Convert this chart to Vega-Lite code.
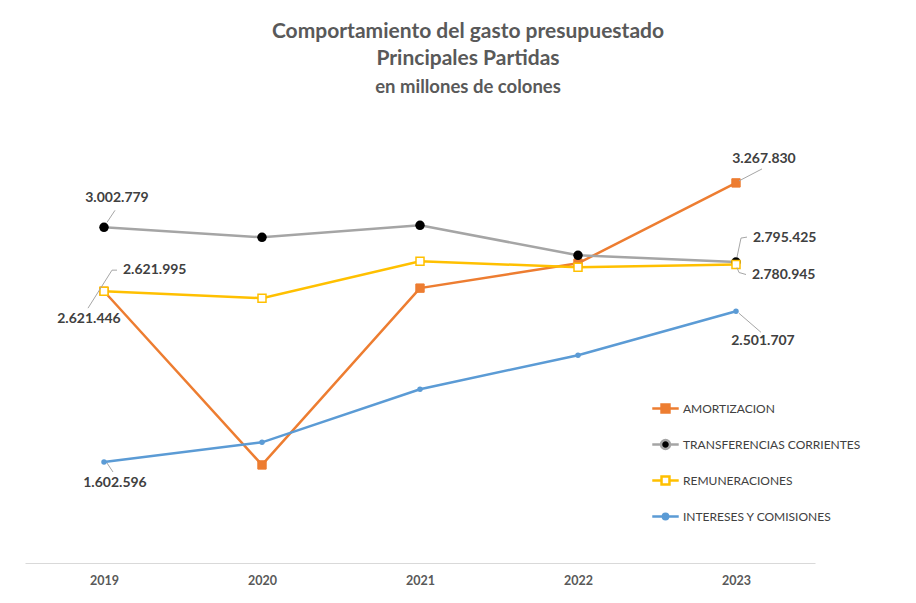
{
  "$schema": "https://vega.github.io/schema/vega-lite/v6.json",
  "width": 790,
  "height": 419,
  "autosize": {"type": "none"},
  "padding": {"left": 25, "top": 144, "right": 101, "bottom": 40},
  "background": "white",
  "title": {
    "text": ["Comportamiento del gasto presupuestado", "Principales Partidas"],
    "subtitle": "en millones de colones",
    "anchor": "middle",
    "frame": "group",
    "dx": 48,
    "offset": 48,
    "font": "Lato",
    "fontSize": 21,
    "fontWeight": "bold",
    "color": "#595959",
    "lineHeight": 27,
    "subtitleFont": "Lato",
    "subtitleFontSize": 18.5,
    "subtitleFontWeight": "bold",
    "subtitleColor": "#595959",
    "subtitlePadding": 9
  },
  "config": {
    "view": {"stroke": null},
    "locale": {"number": {"decimal": ",", "thousands": ".", "grouping": [3], "currency": ["", ""]}},
    "legend": {
      "orient": "none",
      "legendX": 626,
      "legendY": 250,
      "title": null,
      "padding": 0,
      "labelFont": "Lato",
      "labelFontSize": 12,
      "labelColor": "#404040",
      "labelLimit": 0,
      "labelOffset": 3,
      "rowPadding": 12,
      "symbolSize": 700,
      "symbolStrokeWidth": 2.5
    }
  },
  "data": {
    "values": [
      {"year": "2019", "serie": "AMORTIZACION", "value": 2621446},
      {"year": "2020", "serie": "AMORTIZACION", "value": 1585000},
      {"year": "2021", "serie": "AMORTIZACION", "value": 2640000},
      {"year": "2022", "serie": "AMORTIZACION", "value": 2788000},
      {"year": "2023", "serie": "AMORTIZACION", "value": 3267830},
      {"year": "2019", "serie": "TRANSFERENCIAS CORRIENTES", "value": 3002779},
      {"year": "2020", "serie": "TRANSFERENCIAS CORRIENTES", "value": 2943000},
      {"year": "2021", "serie": "TRANSFERENCIAS CORRIENTES", "value": 3015000},
      {"year": "2022", "serie": "TRANSFERENCIAS CORRIENTES", "value": 2836000},
      {"year": "2023", "serie": "TRANSFERENCIAS CORRIENTES", "value": 2795425},
      {"year": "2019", "serie": "REMUNERACIONES", "value": 2621995},
      {"year": "2020", "serie": "REMUNERACIONES", "value": 2580000},
      {"year": "2021", "serie": "REMUNERACIONES", "value": 2800000},
      {"year": "2022", "serie": "REMUNERACIONES", "value": 2765000},
      {"year": "2023", "serie": "REMUNERACIONES", "value": 2780945},
      {"year": "2019", "serie": "INTERESES Y COMISIONES", "value": 1602596},
      {"year": "2020", "serie": "INTERESES Y COMISIONES", "value": 1720000},
      {"year": "2021", "serie": "INTERESES Y COMISIONES", "value": 2037000},
      {"year": "2022", "serie": "INTERESES Y COMISIONES", "value": 2240000},
      {"year": "2023", "serie": "INTERESES Y COMISIONES", "value": 2501707}
    ]
  },
  "encoding": {
    "x": {
      "field": "year",
      "type": "ordinal",
      "scale": {"type": "point", "padding": 0.5},
      "axis": {
        "title": null,
        "labelAngle": 0,
        "ticks": false,
        "domainColor": "#D9D9D9",
        "domainWidth": 1.2,
        "labelFont": "Lato",
        "labelFontSize": 12.5,
        "labelFontWeight": "bold",
        "labelColor": "#595959",
        "labelPadding": 11
      }
    },
    "y": {
      "field": "value",
      "type": "quantitative",
      "scale": {"domain": [1000000, 3500000], "nice": false, "zero": false},
      "axis": null
    }
  },
  "layer": [
    {
      "mark": {"type": "line", "strokeWidth": 2.5},
      "encoding": {
        "stroke": {
          "field": "serie",
          "type": "nominal",
          "scale": {
            "domain": ["AMORTIZACION", "TRANSFERENCIAS CORRIENTES", "REMUNERACIONES", "INTERESES Y COMISIONES"],
            "range": ["#ED7D31", "#A5A5A5", "#FFC000", "#5B9BD5"]
          },
          "legend": {
            "encode": {
              "symbols": {
                "update": {
                  "shape": {"signal": "datum.value == 'TRANSFERENCIAS CORRIENTES' ? 'M-1,0H-0.34M0.34,0H1M-0.34,0A0.34,0.34 0 1,1 0.34,0A0.34,0.34 0 1,1 -0.34,0Z' : datum.value == 'INTERESES Y COMISIONES' ? 'M-1,0H-0.2M0.2,0H1M-0.2,0A0.2,0.2 0 1,1 0.2,0A0.2,0.2 0 1,1 -0.2,0Z' : 'M-1,0H-0.3M0.3,0H1M-0.3,-0.3H0.3V0.3H-0.3Z'"}
                }
              }
            }
          }
        }
      }
    },
    {
      "mark": {"type": "point", "filled": true, "opacity": 1},
      "encoding": {
        "stroke": {"field": "serie", "type": "nominal"},
        "fill": {
          "field": "serie",
          "type": "nominal",
          "scale": {
            "domain": ["AMORTIZACION", "TRANSFERENCIAS CORRIENTES", "REMUNERACIONES", "INTERESES Y COMISIONES"],
            "range": ["#ED7D31", "#000000", "#FFFFFF", "#5B9BD5"]
          },
          "legend": {
            "encode": {
              "symbols": {
                "update": {
                  "shape": {"signal": "datum.value == 'TRANSFERENCIAS CORRIENTES' ? 'M-1,0H-0.34M0.34,0H1M-0.34,0A0.34,0.34 0 1,1 0.34,0A0.34,0.34 0 1,1 -0.34,0Z' : datum.value == 'INTERESES Y COMISIONES' ? 'M-1,0H-0.2M0.2,0H1M-0.2,0A0.2,0.2 0 1,1 0.2,0A0.2,0.2 0 1,1 -0.2,0Z' : 'M-1,0H-0.3M0.3,0H1M-0.3,-0.3H0.3V0.3H-0.3Z'"}
                }
              }
            }
          }
        },
        "shape": {
          "condition": {"test": "datum.serie == 'AMORTIZACION' || datum.serie == 'REMUNERACIONES'", "value": "square"},
          "value": "circle"
        },
        "size": {
          "condition": [
            {"test": "datum.serie == 'AMORTIZACION'", "value": 70},
            {"test": "datum.serie == 'TRANSFERENCIAS CORRIENTES'", "value": 90},
            {"test": "datum.serie == 'REMUNERACIONES'", "value": 64}
          ],
          "value": 30
        },
        "strokeWidth": {
          "condition": [
            {"test": "datum.serie == 'AMORTIZACION'", "value": 1},
            {"test": "datum.serie == 'REMUNERACIONES'", "value": 1.5}
          ],
          "value": 0
        }
      }
    },
    {
      "transform": [{"filter": "datum.serie == 'TRANSFERENCIAS CORRIENTES' && datum.year == '2019'"}],
      "mark": {"type": "rule", "color": "#A6A6A6", "strokeWidth": 1, "xOffset": 3, "yOffset": -5, "x2Offset": 11, "y2Offset": -17},
      "encoding": {"x2": {"field": "year"}, "y2": {"field": "value"}}
    },
    {
      "transform": [{"filter": "datum.serie == 'REMUNERACIONES' && datum.year == '2019'"}],
      "mark": {"type": "rule", "color": "#A6A6A6", "strokeWidth": 1, "xOffset": -16, "yOffset": 17, "x2Offset": 8, "y2Offset": -21},
      "encoding": {"x2": {"field": "year"}, "y2": {"field": "value"}}
    },
    {
      "transform": [{"filter": "datum.serie == 'REMUNERACIONES' && datum.year == '2019'"}],
      "mark": {"type": "rule", "color": "#A6A6A6", "strokeWidth": 1, "xOffset": 8, "yOffset": -21, "x2Offset": 13, "y2Offset": -21},
      "encoding": {"x2": {"field": "year"}, "y2": {"field": "value"}}
    },
    {
      "transform": [{"filter": "datum.serie == 'INTERESES Y COMISIONES' && datum.year == '2019'"}],
      "mark": {"type": "rule", "color": "#A6A6A6", "strokeWidth": 1, "xOffset": 3, "yOffset": 1, "x2Offset": 9, "y2Offset": 10},
      "encoding": {"x2": {"field": "year"}, "y2": {"field": "value"}}
    },
    {
      "transform": [{"filter": "datum.serie == 'AMORTIZACION' && datum.year == '2023'"}],
      "mark": {"type": "rule", "color": "#A6A6A6", "strokeWidth": 1, "xOffset": 3, "yOffset": -2, "x2Offset": 26, "y2Offset": -14},
      "encoding": {"x2": {"field": "year"}, "y2": {"field": "value"}}
    },
    {
      "transform": [{"filter": "datum.serie == 'TRANSFERENCIAS CORRIENTES' && datum.year == '2023'"}],
      "mark": {"type": "rule", "color": "#A6A6A6", "strokeWidth": 1, "xOffset": 1, "yOffset": -5, "x2Offset": 5, "y2Offset": -24},
      "encoding": {"x2": {"field": "year"}, "y2": {"field": "value"}}
    },
    {
      "transform": [{"filter": "datum.serie == 'TRANSFERENCIAS CORRIENTES' && datum.year == '2023'"}],
      "mark": {"type": "rule", "color": "#A6A6A6", "strokeWidth": 1, "xOffset": 5, "yOffset": -24, "x2Offset": 11, "y2Offset": -25},
      "encoding": {"x2": {"field": "year"}, "y2": {"field": "value"}}
    },
    {
      "transform": [{"filter": "datum.serie == 'REMUNERACIONES' && datum.year == '2023'"}],
      "mark": {"type": "rule", "color": "#A6A6A6", "strokeWidth": 1, "xOffset": 1, "yOffset": 3, "x2Offset": 3, "y2Offset": 8},
      "encoding": {"x2": {"field": "year"}, "y2": {"field": "value"}}
    },
    {
      "transform": [{"filter": "datum.serie == 'REMUNERACIONES' && datum.year == '2023'"}],
      "mark": {"type": "rule", "color": "#A6A6A6", "strokeWidth": 1, "xOffset": 3, "yOffset": 8, "x2Offset": 10, "y2Offset": 10},
      "encoding": {"x2": {"field": "year"}, "y2": {"field": "value"}}
    },
    {
      "transform": [{"filter": "datum.serie == 'INTERESES Y COMISIONES' && datum.year == '2023'"}],
      "mark": {"type": "rule", "color": "#A6A6A6", "strokeWidth": 1, "xOffset": 3, "yOffset": 2, "x2Offset": 25, "y2Offset": 21},
      "encoding": {"x2": {"field": "year"}, "y2": {"field": "value"}}
    },
    {
      "transform": [{"filter": "datum.serie == 'TRANSFERENCIAS CORRIENTES' && datum.year == '2019'"}],
      "mark": {"type": "text", "font": "Lato", "fontSize": 14, "fontWeight": "bold", "color": "#404040", "align": "center", "baseline": "middle", "dx": 13, "dy": -29},
      "encoding": {"text": {"field": "value", "type": "quantitative", "format": ",d"}}
    },
    {
      "transform": [{"filter": "datum.serie == 'REMUNERACIONES' && datum.year == '2019'"}],
      "mark": {"type": "text", "font": "Lato", "fontSize": 14, "fontWeight": "bold", "color": "#404040", "align": "left", "baseline": "middle", "dx": 19, "dy": -21},
      "encoding": {"text": {"field": "value", "type": "quantitative", "format": ",d"}}
    },
    {
      "transform": [{"filter": "datum.serie == 'AMORTIZACION' && datum.year == '2019'"}],
      "mark": {"type": "text", "font": "Lato", "fontSize": 14, "fontWeight": "bold", "color": "#404040", "align": "center", "baseline": "middle", "dx": -15, "dy": 28},
      "encoding": {"text": {"field": "value", "type": "quantitative", "format": ",d"}}
    },
    {
      "transform": [{"filter": "datum.serie == 'INTERESES Y COMISIONES' && datum.year == '2019'"}],
      "mark": {"type": "text", "font": "Lato", "fontSize": 14, "fontWeight": "bold", "color": "#404040", "align": "center", "baseline": "middle", "dx": 11, "dy": 21},
      "encoding": {"text": {"field": "value", "type": "quantitative", "format": ",d"}}
    },
    {
      "transform": [{"filter": "datum.serie == 'AMORTIZACION' && datum.year == '2023'"}],
      "mark": {"type": "text", "font": "Lato", "fontSize": 14, "fontWeight": "bold", "color": "#404040", "align": "center", "baseline": "middle", "dx": 28, "dy": -24},
      "encoding": {"text": {"field": "value", "type": "quantitative", "format": ",d"}}
    },
    {
      "transform": [{"filter": "datum.serie == 'TRANSFERENCIAS CORRIENTES' && datum.year == '2023'"}],
      "mark": {"type": "text", "font": "Lato", "fontSize": 14, "fontWeight": "bold", "color": "#404040", "align": "left", "baseline": "middle", "dx": 17, "dy": -24},
      "encoding": {"text": {"field": "value", "type": "quantitative", "format": ",d"}}
    },
    {
      "transform": [{"filter": "datum.serie == 'REMUNERACIONES' && datum.year == '2023'"}],
      "mark": {"type": "text", "font": "Lato", "fontSize": 14, "fontWeight": "bold", "color": "#404040", "align": "left", "baseline": "middle", "dx": 16, "dy": 10.5},
      "encoding": {"text": {"field": "value", "type": "quantitative", "format": ",d"}}
    },
    {
      "transform": [{"filter": "datum.serie == 'INTERESES Y COMISIONES' && datum.year == '2023'"}],
      "mark": {"type": "text", "font": "Lato", "fontSize": 14, "fontWeight": "bold", "color": "#404040", "align": "center", "baseline": "middle", "dx": 27, "dy": 30},
      "encoding": {"text": {"field": "value", "type": "quantitative", "format": ",d"}}
    }
  ]
}
